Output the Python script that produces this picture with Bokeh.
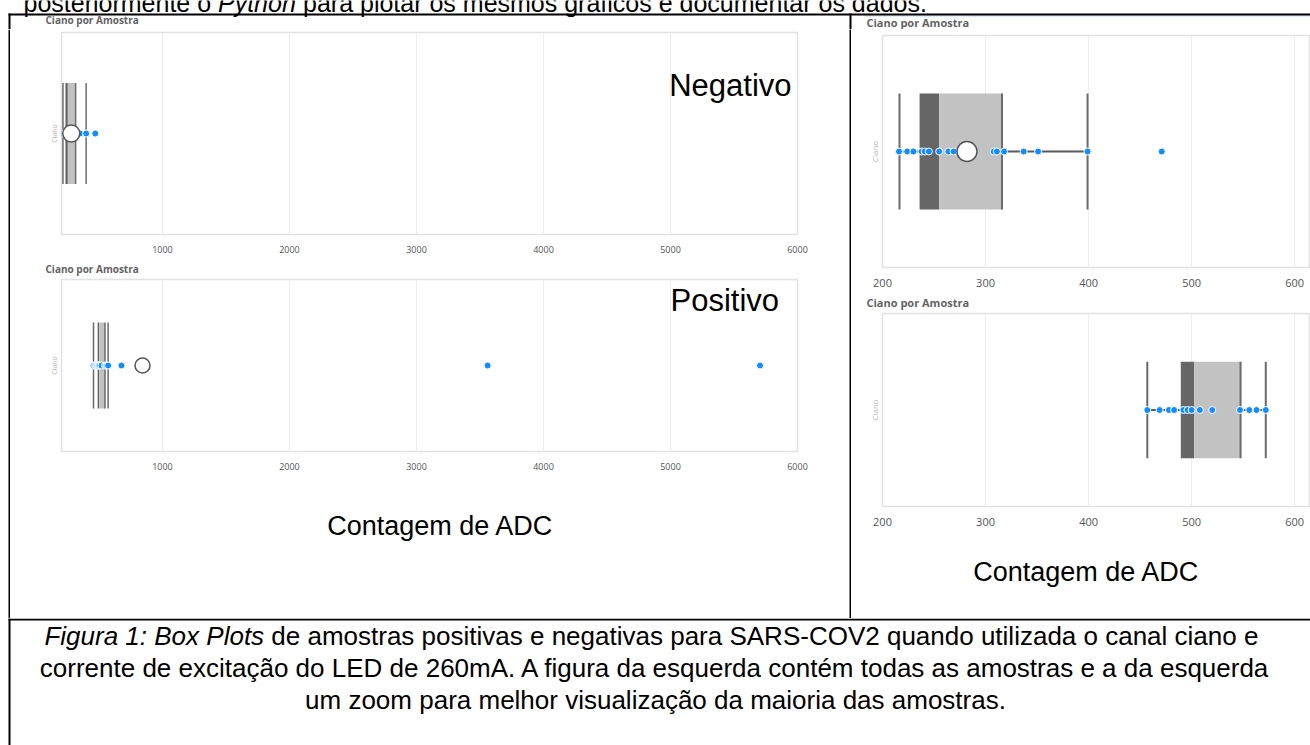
from bokeh.plotting import figure
from bokeh.layouts import row, column
from bokeh.models import Range1d, FixedTicker, Label
from bokeh.embed import file_html
from bokeh.resources import INLINE
from bokeh.core.properties import value

# ---------------- data ----------------
category = "Ciano"
chart_title = "Ciano por Amostra"
x_caption = "Contagem de ADC"
group_labels = ["Negativo", "Positivo"]

neg_values = [216, 224, 230, 238, 241, 245, 255, 264, 269, 308, 311, 318, 337, 351, 399, 471]
neg_box = [216.5, 236, 255, 316, 399]          # whisker low, Q1, median, Q3, whisker high
neg_mean = [282]

pos_values = [457, 469, 478, 483, 492, 496, 500, 508, 520, 547, 556, 563, 572, 677, 3560, 5705]
pos_box = [457, 489.5, 502.5, 547.5, 572]
pos_mean = [843]

full_ticks = [1000, 2000, 3000, 4000, 5000, 6000]
full_range = [205, 6000]
zoom_ticks = [200, 300, 400, 500, 600]
zoom_range = [200, 615.4]

top_text = ["posteriormente o", "Python", "para plotar os mesmos gráficos e documentar os dados."]
caption_l1 = ["Figura 1: Box Plots", "de amostras positivas e negativas para SARS-COV2 quando utilizada o canal ciano e"]
caption_l2 = "corrente de excitação do LED de 260mA. A figura da esquerda contém todas as amostras e a da esquerda"
caption_l3 = "um zoom para melhor visualização da maioria das amostras."

DOC_FONT = "Liberation Sans"
PBI_FONT = "Open Sans"
TITLE_COLOR = "#636363"


def rule(w, h):
    p = figure(width=w, height=h, output_backend="svg", toolbar_location=None, tools="",
               min_border=0, x_axis_type=None, y_axis_type=None)
    p.background_fill_color = "black"
    p.border_fill_color = "black"
    p.outline_line_color = None
    return p


def canvas(w, h):
    p = figure(width=w, height=h, x_range=Range1d(0, w), y_range=Range1d(h, 0),
               output_backend="svg", toolbar_location=None, tools="",
               min_border=0, x_axis_type=None, y_axis_type=None)
    p.background_fill_color = "white"
    p.border_fill_color = "white"
    p.outline_line_color = None
    return p


def fill(p, l, r, t, b, color="black"):
    p.quad(left=[l], right=[r], top=[t], bottom=[b], fill_color=color, line_color=None)


def doc_text(p, x, y, txt, size, align="left", style="normal"):
    # y is the vertical middle of the capital letters
    p.text(x=x, y=y, text=txt, text_font=value(DOC_FONT), text_font_size=f"{size}px",
           text_font_style=style, text_align=align, text_baseline="middle", text_color="black")


def pbi_title(p, x, y, size):
    p.text(x=[x], y=[y], text=[chart_title], text_font=value(PBI_FONT), text_font_size=f"{size}px",
           text_font_style="bold", text_color=TITLE_COLOR, text_baseline="middle", text_align="left")


def chart(w, h, borders, xr, ticks, vals, box, mean, big, mean_size,
          with_title=False, label=None, label_xy=None):
    l, r, t, b = borders
    p = figure(width=w, height=h, x_range=Range1d(*xr), y_range=Range1d(0, 1),
               output_backend="svg", toolbar_location=None, tools="",
               min_border_left=l, min_border_right=r, min_border_top=t, min_border_bottom=b,
               title=chart_title if with_title else None)
    if with_title:
        p.title.text_font = PBI_FONT
        p.title.text_font_size = "11px" if big else "10px"
        p.title.text_font_style = "bold"
        p.title.text_color = TITLE_COLOR
        p.title.offset = -16
        p.title.standoff = 7
    p.background_fill_color = "white"
    p.border_fill_color = "white"
    p.outline_line_color = "#E2E2E2"
    p.outline_line_width = 1.5

    p.xgrid.ticker = FixedTicker(ticks=ticks)
    p.xgrid.grid_line_color = "#EFEFEF"
    p.ygrid.visible = False

    xa = p.xaxis[0]
    xa.ticker = FixedTicker(ticks=ticks)
    xa.axis_line_color = None
    xa.major_tick_line_color = None
    xa.minor_tick_line_color = None
    xa.major_label_text_font = PBI_FONT
    xa.major_label_text_font_size = "11px" if big else "9px"
    xa.major_label_text_color = "#555555"
    xa.major_label_standoff = 5

    ya = p.yaxis[0]
    ya.ticker = FixedTicker(ticks=[])
    ya.axis_label = category
    ya.axis_label_text_font = PBI_FONT
    ya.axis_label_text_font_size = "8px" if big else "7px"
    ya.axis_label_text_font_style = "normal"
    ya.axis_label_text_color = "#B5B5B5"
    ya.axis_label_standoff = 3
    ya.axis_line_color = None
    ya.major_tick_line_color = None
    ya.minor_tick_line_color = None
    ya.major_label_standoff = 0

    lw = 2 if big else 1.5
    lo, q1, med, q3, hi = box
    p.quad(left=[q1], right=[med], bottom=[0.25], top=[0.75], fill_color="#666666", line_color=None)
    p.quad(left=[med], right=[q3], bottom=[0.25], top=[0.75], fill_color="#C2C2C2", line_color=None)
    p.segment(x0=[lo, hi, q3], y0=[0.25] * 3, x1=[lo, hi, q3], y1=[0.75] * 3,
              line_color="#6B6B6B", line_width=lw)
    p.segment(x0=[lo, q3], y0=[0.5, 0.5], x1=[q1, hi], y1=[0.5, 0.5],
              line_color="#5A5A5A", line_width=lw)
    p.scatter(x=vals, y=[0.5] * len(vals), size=7, fill_color="#118DFF",
              line_color="white", line_width=1)
    p.scatter(x=mean, y=[0.5] * len(mean), size=mean_size, fill_color="white",
              line_color="#555555", line_width=1.5)
    if label is not None:
        p.add_layout(Label(x=label_xy[0], y=label_xy[1], text=label, text_font=DOC_FONT,
                           text_font_size="31px", text_color="black",
                           text_baseline="middle", text_align="left"))
    return p


# ---------------- top band: clipped text line, table top border, first titles ----------------
TOP_H = 29
top = canvas(1310, TOP_H)
doc_text(top, [23], [2.3], [top_text[0]], 25)
doc_text(top, [217.5], [2.3], [top_text[1]], 25, style="italic")
doc_text(top, [302.5], [2.3], [top_text[2]], 25)
fill(top, 864, 1310, 15, 16, "#C4DAF2")
fill(top, 8, 1310, 13, 15)
fill(top, 8, 10, 13, TOP_H)
fill(top, 849, 851, 13, TOP_H)
pbi_title(top, 45, 19.5, 10)
pbi_title(top, 866, 22.3, 11)

MID_H = 618 - TOP_H

# ---------------- left border of the middle row ----------------
left_border = canvas(10, MID_H)
fill(left_border, 8, 10, 0, MID_H)

# ---------------- left cell: all samples ----------------
figA = chart(839, 255 - TOP_H, (51, 52, 32 - TOP_H, 17), full_range, full_ticks, neg_values,
             neg_box, neg_mean, False, 17, False, group_labels[0], (4990, 0.738))
figB = chart(839, 223, (51, 52, 24, 27), full_range, full_ticks, pos_values, pos_box, pos_mean,
             False, 15, True, group_labels[1], (5000, 0.878))
# (the column aligns this canvas' frame with the charts' frames: 839 units span page x 61..797)
figC = canvas(839, 140)
doc_text(figC, [432], [47.5], [x_caption], 27, align="center")

# ---------------- right cell: zoom ----------------
figD = chart(459, 289 - TOP_H, (31, 0, 35 - TOP_H, 22), zoom_range, zoom_ticks, neg_values,
             neg_box, neg_mean, True, 20, False)
figE = chart(459, 239, (31, 0, 24, 21), zoom_range, zoom_ticks, pos_values, pos_box, pos_mean,
             True, 20, True)
# (459 units span page x 882..1310 once aligned with the charts above)
figF = canvas(459, 90)
doc_text(figF, [218.8], [43.5], [x_caption], 27, align="center")

# ---------------- caption row ----------------
cap = canvas(1310, 127)
fill(cap, 8, 1310, 0, 2)
fill(cap, 8, 10, 0, 127)
doc_text(cap, [263.6], [17], [caption_l1[0]], 26, align="right", style="italic")
doc_text(cap, [270.8], [17], [caption_l1[1]], 26)
doc_text(cap, [655, 655], [49, 81], [caption_l2, caption_l3], 26, align="center")

layout = column(
    top,
    row(left_border, column(figA, figB, figC), rule(2, MID_H), column(figD, figE, figF)),
    cap,
)

open("out.html", "w").write(file_html(layout, INLINE))
